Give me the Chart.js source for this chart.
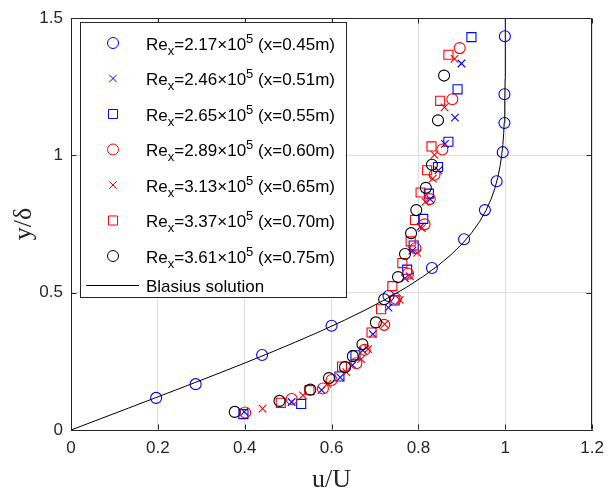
<!DOCTYPE html>
<html>
<head>
<meta charset="utf-8">
<title>Boundary layer velocity profiles</title>
<script src="https://cdn.jsdelivr.net/npm/chart.js@4/dist/chart.umd.min.js"></script>
<style>
    html, body { margin: 0; padding: 0; background: #fff; }
    #profile-chart { display: block; }
</style>
</head>
<body>
<canvas id="profile-chart" width="612" height="493"></canvas>
<script>
// axis ticks
const xTicks = [0, 0.2, 0.4, 0.6, 0.8, 1, 1.2];
const xTickLabels = ['0', '0.2', '0.4', '0.6', '0.8', '1', '1.2'];
const yTicks = [0, 0.5, 1, 1.5];
const yTickLabels = ['0', '0.5', '1', '1.5'];

// legend text
const reValues = ['2.17', '2.46', '2.65', '2.89', '3.13', '3.37', '3.61'];
const stations = ['0.45', '0.51', '0.55', '0.60', '0.65', '0.70', '0.75'];

// measured profiles, u/U and y/delta
const u217 = [0.196, 0.287, 0.440, 0.600, 0.731, 0.831, 0.905, 0.953, 0.980, 0.994, 0.998, 0.998, 0.999];
const y217 = [0.117, 0.167, 0.273, 0.380, 0.488, 0.590, 0.695, 0.801, 0.906, 1.012, 1.118, 1.223, 1.434];

const u246 = [0.399, 0.508, 0.577, 0.620, 0.648, 0.672, 0.695, 0.731, 0.769, 0.786, 0.805, 0.827, 0.846, 0.861, 0.884, 0.899];
const y246 = [0.066, 0.102, 0.145, 0.192, 0.236, 0.290, 0.349, 0.446, 0.552, 0.653, 0.741, 0.841, 0.946, 1.042, 1.138, 1.335];

const u265 = [0.397, 0.530, 0.618, 0.655, 0.745, 0.774, 0.789, 0.811, 0.824, 0.845, 0.869, 0.890, 0.922];
const y265 = [0.058, 0.095, 0.195, 0.272, 0.472, 0.584, 0.672, 0.769, 0.861, 0.958, 1.050, 1.241, 1.431];

const u289 = [0.401, 0.508, 0.580, 0.600, 0.657, 0.676, 0.721, 0.748, 0.776, 0.793, 0.814, 0.826, 0.837, 0.855, 0.878, 0.895];
const y289 = [0.064, 0.113, 0.151, 0.182, 0.243, 0.292, 0.383, 0.478, 0.569, 0.662, 0.749, 0.841, 0.930, 1.022, 1.205, 1.391];

const u313 = [0.441, 0.534, 0.590, 0.634, 0.668, 0.684, 0.722, 0.757, 0.780, 0.797, 0.808, 0.816, 0.833, 0.837, 0.860, 0.883];
const y313 = [0.078, 0.126, 0.168, 0.211, 0.258, 0.295, 0.386, 0.474, 0.560, 0.645, 0.735, 0.831, 0.916, 1.002, 1.175, 1.352];

const u337 = [0.483, 0.549, 0.624, 0.692, 0.714, 0.740, 0.763, 0.782, 0.792, 0.805, 0.820, 0.830, 0.850, 0.869];
const y337 = [0.099, 0.145, 0.231, 0.355, 0.440, 0.524, 0.608, 0.687, 0.765, 0.865, 0.946, 1.033, 1.199, 1.367];

const u361 = [0.377, 0.480, 0.551, 0.594, 0.631, 0.649, 0.671, 0.702, 0.721, 0.753, 0.769, 0.783, 0.795, 0.817, 0.831, 0.845, 0.859];
const y361 = [0.066, 0.106, 0.147, 0.189, 0.229, 0.269, 0.312, 0.392, 0.476, 0.557, 0.641, 0.717, 0.801, 0.882, 0.966, 1.128, 1.291];

// Blasius solution (tabulated f' against eta/5)
const blasiusU = [0, 0.0664, 0.1328, 0.1989, 0.2647, 0.3298, 0.3938, 0.4563, 0.5168, 0.5748, 0.6298, 0.6813, 0.7290, 0.7725, 0.8115, 0.8461, 0.8761, 0.9018, 0.9233, 0.9411, 0.9555, 0.9670, 0.9759, 0.9827, 0.9878, 0.9916, 0.9943, 0.9962, 0.9975, 0.9984, 0.9990, 0.9996, 0.9999, 1.0000, 1.0000];
const blasiusY = [0, 0.04, 0.08, 0.12, 0.16, 0.20, 0.24, 0.28, 0.32, 0.36, 0.40, 0.44, 0.48, 0.52, 0.56, 0.60, 0.64, 0.68, 0.72, 0.76, 0.80, 0.84, 0.88, 0.92, 0.96, 1.00, 1.04, 1.08, 1.12, 1.16, 1.20, 1.28, 1.36, 1.44, 1.50];

const AXIS_COLOR = '#262626';
const GRID_COLOR = '#dedede';
const TICK_FONT = { family: "'Liberation Sans', Arial, sans-serif", size: 17 };
const LEGEND_FONT = "17px 'Liberation Sans', Arial, sans-serif";
const SMALL_FONT = "13px 'Liberation Sans', Arial, sans-serif";
const TITLE_FONT = "26px 'Liberation Serif', 'Times New Roman', serif";

const series = [
    { u: u217, y: y217, color: '#0000ff', style: 'circle', radius: 5.5 },
    { u: u246, y: y246, color: '#0000ff', style: 'crossRot', radius: 5.3 },
    { u: u265, y: y265, color: '#0000ff', style: 'rect', radius: 6.4 },
    { u: u289, y: y289, color: '#ff0000', style: 'circle', radius: 5.5 },
    { u: u313, y: y313, color: '#ff0000', style: 'crossRot', radius: 5.3 },
    { u: u337, y: y337, color: '#ff0000', style: 'rect', radius: 6.4 },
    { u: u361, y: y361, color: '#000000', style: 'circle', radius: 5.5 },
];

function toPoints(u, y) {
    return u.map(function (v, i) {
        return { x: v, y: y[i] };
    });
}

function putText(ctx, text, x, y, font) {
    ctx.font = font;
    ctx.fillText(text, x, y);
    return x + ctx.measureText(text).width;
}

function drawLegend(ctx) {
    const bx = 80, by = 22, bw = 266, bh = 275;
    ctx.save();
    ctx.fillStyle = '#ffffff';
    ctx.fillRect(bx, by, bw, bh);
    ctx.strokeStyle = AXIS_COLOR;
    ctx.lineWidth = 1;
    ctx.strokeRect(bx + 0.5, by + 0.5, bw, bh);

    ctx.textAlign = 'left';
    ctx.textBaseline = 'alphabetic';
    series.forEach(function (s, i) {
        const cy = 43 + i * 35.5;
        ctx.strokeStyle = s.color;
        ctx.fillStyle = 'rgba(0,0,0,0)';
        ctx.lineWidth = 1;
        Chart.helpers.drawPoint(ctx, { pointStyle: s.style, radius: s.radius, rotation: 0, borderWidth: 1 }, 113, cy);

        ctx.fillStyle = '#000000';
        const base = cy + 6.5;
        let x = putText(ctx, 'Re', 146, base, LEGEND_FONT);
        x = putText(ctx, 'x', x, base + 5, SMALL_FONT);
        x = putText(ctx, '=' + reValues[i] + '\u00d710', x, base, LEGEND_FONT);
        x = putText(ctx, '5', x, base - 7, SMALL_FONT);
        putText(ctx, ' (x=' + stations[i] + 'm)', x, base, LEGEND_FONT);
    });

    // Blasius entry
    ctx.strokeStyle = '#000000';
    ctx.beginPath();
    ctx.moveTo(86, 285.5);
    ctx.lineTo(139, 285.5);
    ctx.stroke();
    ctx.fillStyle = '#000000';
    putText(ctx, 'Blasius solution', 146, 291.5, LEGEND_FONT);
    ctx.restore();
}

// box, inside ticks, axis titles and legend
const framePlugin = {
    id: 'frame',
    afterDraw: function (chart) {
        const ctx = chart.ctx;
        const area = chart.chartArea;
        const xs = chart.scales.x;
        const ys = chart.scales.y;
        const L = Math.round(area.left) + 0.5;
        const R = Math.round(area.right) - 0.5;
        const T = Math.round(area.top) + 0.5;
        const B = Math.round(area.bottom) - 0.5;

        ctx.save();
        ctx.strokeStyle = AXIS_COLOR;
        ctx.lineWidth = 1;
        ctx.beginPath();
        ctx.moveTo(L, T); ctx.lineTo(R, T); ctx.lineTo(R, B);
        xTicks.forEach(function (v) {
            const px = Math.round(xs.getPixelForValue(v)) + 0.5;
            ctx.moveTo(px, B); ctx.lineTo(px, B - 5);
            ctx.moveTo(px, T); ctx.lineTo(px, T + 5);
        });
        yTicks.forEach(function (v) {
            const py = Math.round(ys.getPixelForValue(v)) + 0.5;
            ctx.moveTo(L, py); ctx.lineTo(L + 5, py);
            ctx.moveTo(R, py); ctx.lineTo(R - 5, py);
        });
        ctx.stroke();

        ctx.fillStyle = AXIS_COLOR;
        ctx.font = TITLE_FONT;
        ctx.textAlign = 'center';
        ctx.textBaseline = 'alphabetic';
        ctx.fillText('u/U', (area.left + area.right) / 2, 487);
        ctx.translate(31, (area.top + area.bottom) / 2);
        ctx.rotate(-Math.PI / 2);
        ctx.fillText('y/\u03b4', 0, 0);
        ctx.restore();

        drawLegend(ctx);
    }
};

const datasets = series.map(function (s, i) {
    return {
        label: 'Re ' + reValues[i],
        data: toPoints(s.u, s.y),
        showLine: false,
        pointStyle: s.style,
        pointRadius: s.radius,
        pointHoverRadius: s.radius,
        pointBorderColor: s.color,
        pointBackgroundColor: 'rgba(0,0,0,0)',
        pointBorderWidth: 1.1,
        order: 10 - i
    };
});
datasets.push({
    label: 'Blasius solution',
    data: toPoints(blasiusU, blasiusY),
    showLine: true,
    borderColor: '#000000',
    borderWidth: 1,
    pointRadius: 0,
    tension: 0,
    order: 0
});

new Chart(document.getElementById('profile-chart'), {
    type: 'scatter',
    data: { datasets: datasets },
    options: {
        responsive: false,
        animation: false,
        layout: { padding: { top: 15, right: 13, left: 0, bottom: 0 } },
        plugins: {
            legend: { display: false },
            tooltip: { enabled: false }
        },
        scales: {
            x: {
                type: 'linear',
                min: 0,
                max: 1.2,
                afterBuildTicks: function (scale) {
                    scale.ticks = xTicks.map(function (v) { return { value: v }; });
                },
                afterFit: function (scale) { scale.height = 63; },
                ticks: {
                    autoSkip: false,
                    maxRotation: 0,
                    padding: 8,
                    color: AXIS_COLOR,
                    font: TICK_FONT,
                    callback: function (value, index) { return xTickLabels[index]; }
                },
                grid: { color: GRID_COLOR, drawTicks: false },
                border: { color: AXIS_COLOR, width: 1 }
            },
            y: {
                type: 'linear',
                min: 0,
                max: 1.5,
                afterBuildTicks: function (scale) {
                    scale.ticks = yTicks.map(function (v) { return { value: v }; });
                },
                afterFit: function (scale) { scale.width = 71; },
                ticks: {
                    autoSkip: false,
                    padding: 8,
                    color: AXIS_COLOR,
                    font: TICK_FONT,
                    callback: function (value, index) { return yTickLabels[index]; }
                },
                grid: { color: GRID_COLOR, drawTicks: false },
                border: { color: AXIS_COLOR, width: 1 }
            }
        }
    },
    plugins: [framePlugin]
});
</script>
</body>
</html>
